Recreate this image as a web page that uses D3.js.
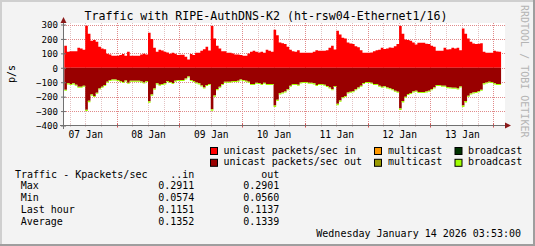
<!DOCTYPE html>
<html>
<head>
<meta charset="utf-8">
<script src="https://cdn.jsdelivr.net/npm/d3@7"></script>
<style>
  body { margin: 0; background: #fff; }
  svg text { font-family: "DejaVu Sans Mono", monospace; fill: #000; }
</style>
</head>
<body>
<script>

// hourly samples, first one starts 2026-01-07 04:00
var startTime = Date.UTC(2026, 0, 7, 4);
var hour = 3600000;

// unicast packets/sec in
var inUnicast = [
  152,111,115,115,115,139,134,125,291,236,
  187,192,180,146,134,129,97,92,83,83,
  83,88,95,83,111,83,83,83,83,92,
  97,92,243,199,139,111,125,120,111,106,
  97,104,97,88,90,90,76,58,95,88,
  104,104,118,129,146,120,290,203,152,134,
  115,115,104,104,99,92,92,88,83,83,
  99,111,118,111,106,111,104,125,118,111,
  263,225,175,170,165,146,125,115,111,122,
  104,104,104,104,104,111,122,118,118,118,
  122,139,152,127,256,231,208,203,176,169,
  164,150,143,122,104,104,104,106,115,122,
  125,139,130,134,141,139,150,164,289,236,
  196,192,187,176,162,173,173,173,166,164,
  152,146,118,118,118,139,127,129,139,134,
  139,122,272,236,203,180,169,164,166,170,
  111,104,104,104,118,113,111
];

// unicast packets/sec out (drawn below zero)
var outUnicast = [
  152,108,113,108,118,132,132,125,290,229,
  186,195,173,143,132,120,97,85,81,81,
  85,92,99,88,104,90,90,90,90,95,
  102,92,232,185,144,108,118,113,108,92,
  99,106,90,85,85,85,74,60,85,92,
  102,108,122,136,120,113,288,192,147,132,
  113,97,97,97,92,92,90,81,85,90,
  97,113,113,104,106,113,104,113,113,113,
  262,222,177,171,164,148,125,113,113,118,
  102,99,99,104,104,108,120,113,113,118,
  127,136,148,127,249,227,204,195,171,166,
  162,148,136,125,106,99,99,104,113,113,
  125,132,128,136,141,148,159,166,283,231,
  200,182,175,164,159,168,168,168,164,159,
  148,136,120,120,125,125,134,136,138,138,
  143,129,262,231,193,178,171,168,162,152,
  108,102,97,99,108,113,113
];

// broadcast out, stacked under unicast out
var outBroadcast = [
  7,7,7,7,7,7,7,7,10,9,
  8,8,7,7,7,7,7,7,7,7,
  7,7,7,7,7,7,7,7,7,7,
  7,7,10,9,8,7,7,7,7,7,
  7,7,7,7,7,7,7,7,7,7,
  7,7,7,7,7,7,10,9,8,7,
  7,7,7,7,7,7,7,7,7,7,
  7,7,7,7,7,7,7,7,7,7,
  10,9,8,7,7,7,7,7,7,7,
  7,7,7,7,7,7,7,7,7,7,
  7,7,7,7,10,9,8,8,7,7,
  7,7,7,7,7,7,7,7,7,7,
  7,7,7,7,7,7,7,7,10,9,
  8,7,7,7,7,7,7,7,7,7,
  7,7,7,7,7,7,7,7,7,7,
  7,7,10,9,8,7,7,7,7,7,
  7,7,7,7,7,7,7
];

var yTicks = [-400, -300, -200, -100, 0, 100, 200, 300];
var labelDays = [7, 8, 9, 10, 11, 12, 13];

var legendRows = [
  [["#ff0000", "unicast packets/sec in"], ["#ff9900", "multicast"], ["#003300", "broadcast"]],
  [["#990000", "unicast packets/sec out"], ["#999900", "multicast"], ["#a0ff00", "broadcast"]]
];

var tableHead = ["Traffic - Kpackets/sec", "..in", "out"];
var tableRows = [
  ["Max", "0.2911", "0.2901"],
  ["Min", "0.0574", "0.0560"],
  ["Last hour", "0.1151", "0.1137"],
  ["Average", "0.1352", "0.1339"]
];

var width = 535,
    height = 246,
    plotLeft = 64,
    plotRight = 503.4,
    plotTop = 23,
    plotBottom = 125.5;

var svg = d3.select("body").append("svg")
    .attr("width", width)
    .attr("height", height);

// background + 3d frame
svg.append("rect").attr("width", width).attr("height", height).attr("fill", "#f3f3f3");
svg.append("rect").attr("x", 0).attr("y", 0).attr("width", width).attr("height", 2).attr("fill", "#cfcfcf");
svg.append("rect").attr("x", 0).attr("y", 0).attr("width", 2).attr("height", height).attr("fill", "#cfcfcf");
svg.append("rect").attr("x", 0).attr("y", height - 2).attr("width", width).attr("height", 2).attr("fill", "#9e9e9e");
svg.append("rect").attr("x", width - 2).attr("y", 0).attr("width", 2).attr("height", height).attr("fill", "#9e9e9e");

var x = d3.scaleUtc()
    .domain([new Date(Date.UTC(2026, 0, 7, 3, 53)), new Date(Date.UTC(2026, 0, 14, 3, 53))])
    .range([plotLeft, plotRight]);

var y = d3.scaleLinear()
    .domain([-400, 300])
    .range([plotBottom, 24.5]);

// canvas
svg.append("rect")
    .attr("x", plotLeft)
    .attr("y", plotTop)
    .attr("width", 505 - plotLeft)
    .attr("height", plotBottom - plotTop)
    .attr("fill", "#fff");

// grid
var gridTimes = x.ticks(d3.utcHour.every(6));
svg.append("g").selectAll("line")
    .data(gridTimes)
    .enter().append("line")
    .attr("x1", function(d) { return Math.round(x(d)) + 0.5; })
    .attr("x2", function(d) { return Math.round(x(d)) + 0.5; })
    .attr("y1", plotTop)
    .attr("y2", plotBottom)
    .attr("stroke", function(d) { return d.getUTCHours() === 0 ? "#e08a8a" : "#e3c3c3"; })
    .attr("stroke-dasharray", "1,1");

svg.append("g").selectAll("line")
    .data(yTicks.filter(function(v) { return v > -400; }))
    .enter().append("line")
    .attr("x1", plotLeft)
    .attr("x2", 505)
    .attr("y1", function(d) { return Math.round(y(d)) + 0.5; })
    .attr("y2", function(d) { return Math.round(y(d)) + 0.5; })
    .attr("stroke", "#e08a8a")
    .attr("stroke-dasharray", "1,1");

// series as step areas
function toPoints(vals, base) {
    var pts = vals.map(function(v, i) {
        return { t: new Date(startTime + i * hour), lo: base ? base[i] : 0, v: v };
    });
    var last = pts[pts.length - 1];
    pts.push({ t: new Date(startTime + vals.length * hour), lo: last.lo, v: last.v });
    return pts;
}

var areaUp = d3.area()
    .curve(d3.curveStepAfter)
    .x(function(d) { return x(d.t); })
    .y0(function(d) { return y(d.lo); })
    .y1(function(d) { return y(d.lo + d.v); });

var areaDown = d3.area()
    .curve(d3.curveStepAfter)
    .x(function(d) { return x(d.t); })
    .y0(function(d) { return y(-d.lo); })
    .y1(function(d) { return y(-(d.lo + d.v)); });

svg.append("path")
    .datum(toPoints(inUnicast))
    .attr("d", areaUp)
    .attr("fill", "#ff0000");

svg.append("path")
    .datum(toPoints(outUnicast))
    .attr("d", areaDown)
    .attr("fill", "#990000");

svg.append("path")
    .datum(toPoints(outBroadcast, outUnicast))
    .attr("d", areaDown)
    .attr("fill", "#a0ff00");

// x axis ticks
svg.append("g").selectAll("line")
    .data(gridTimes)
    .enter().append("line")
    .attr("x1", function(d) { return Math.round(x(d)) + 0.5; })
    .attr("x2", function(d) { return Math.round(x(d)) + 0.5; })
    .attr("y1", function(d) { return d.getUTCHours() === 0 ? plotBottom - 2 : plotBottom - 1; })
    .attr("y2", function(d) { return d.getUTCHours() === 0 ? plotBottom + 2 : plotBottom + 1; })
    .attr("stroke", function(d) { return d.getUTCHours() === 0 ? "#d05050" : "#c0a0a0"; });

// axes lines
svg.append("line")
    .attr("x1", 60).attr("x2", 507)
    .attr("y1", plotBottom).attr("y2", plotBottom)
    .attr("stroke", "#707070");
svg.append("line")
    .attr("x1", 63.5).attr("x2", 63.5)
    .attr("y1", 129).attr("y2", 21)
    .attr("stroke", "#707070");

svg.append("path")
    .attr("d", "M505,122.5L511,125.5L505,128.5Z")
    .attr("fill", "#8b1a1a");
svg.append("path")
    .attr("d", "M60.5,23L63.5,17L66.5,23Z")
    .attr("fill", "#8b1a1a");

// y axis
var yAxis = svg.append("g")
    .attr("transform", "translate(63.5,0)")
    .call(d3.axisLeft(y).tickValues(yTicks).tickSize(3).tickPadding(3));
yAxis.select(".domain").remove();
yAxis.attr("font-family", null).attr("font-size", null);
yAxis.selectAll("line").attr("stroke", "#707070").attr("x2", -2.5).attr("x1", 2.5);
yAxis.selectAll("text")
    .attr("font-size", "9.1px")
    .attr("dy", "3.3")
    .attr("x", -5.5);

// x axis labels at noon
var xAxis = svg.append("g")
    .attr("transform", "translate(0," + plotBottom + ")")
    .call(d3.axisBottom(x)
        .tickValues(labelDays.map(function(d) { return new Date(Date.UTC(2026, 0, d, 12)); }))
        .tickFormat(d3.utcFormat("%d %b"))
        .tickSize(0));
xAxis.select(".domain").remove();
xAxis.attr("font-family", null).attr("font-size", null);
xAxis.selectAll("text")
    .attr("font-size", "9.6px")
    .attr("dy", null)
    .attr("y", 12.2);

// title
svg.append("text")
    .attr("x", 266)
    .attr("y", 20)
    .attr("text-anchor", "middle")
    .attr("font-size", "11.6px")
    .text("Traffic with RIPE-AuthDNS-K2 (ht-rsw04-Ethernet1/16)");

// vertical label
svg.append("text")
    .attr("transform", "translate(14.5,74) rotate(-90)")
    .attr("text-anchor", "middle")
    .attr("font-size", "10px")
    .text("p/s");

svg.append("text")
    .attr("transform", "translate(520.5,5) rotate(90)")
    .attr("font-size", "10px")
    .style("fill", "#b4b4b4")
    .text("RRDTOOL / TOBI OETIKER");

// legend
var legendX = [[210.5, 223.5], [374.5, 388], [455, 468]];
legendRows.forEach(function(row, r) {
    row.forEach(function(item, c) {
        var baseY = 153.5 + r * 11.8;
        svg.append("rect")
            .attr("x", legendX[c][0])
            .attr("y", baseY - 6)
            .attr("width", 7)
            .attr("height", 7)
            .attr("fill", item[0])
            .attr("stroke", "#000")
            .attr("stroke-width", 1);
        svg.append("text")
            .attr("x", legendX[c][1])
            .attr("y", baseY)
            .attr("font-size", "10px")
            .text(item[1]);
    });
});

// summary table
svg.append("text").attr("x", 15).attr("y", 177.5).attr("font-size", "10px").text(tableHead[0]);
svg.append("text").attr("x", 194.3).attr("y", 177.5).attr("text-anchor", "end").attr("font-size", "10px").text(tableHead[1]);
svg.append("text").attr("x", 279.3).attr("y", 177.5).attr("text-anchor", "end").attr("font-size", "10px").text(tableHead[2]);

tableRows.forEach(function(row, i) {
    var ty = 189.2 + i * 11.8;
    svg.append("text").attr("x", 20.7).attr("y", ty).attr("font-size", "10px").text(row[0]);
    svg.append("text").attr("x", 194.3).attr("y", ty).attr("text-anchor", "end").attr("font-size", "10px").text(row[1]);
    svg.append("text").attr("x", 279.3).attr("y", ty).attr("text-anchor", "end").attr("font-size", "10px").text(row[2]);
});

svg.append("text")
    .attr("x", 521)
    .attr("y", 236.7)
    .attr("text-anchor", "end")
    .attr("font-size", "10px")
    .text("Wednesday January 14 2026 03:53:00");

</script>
</body>
</html>
